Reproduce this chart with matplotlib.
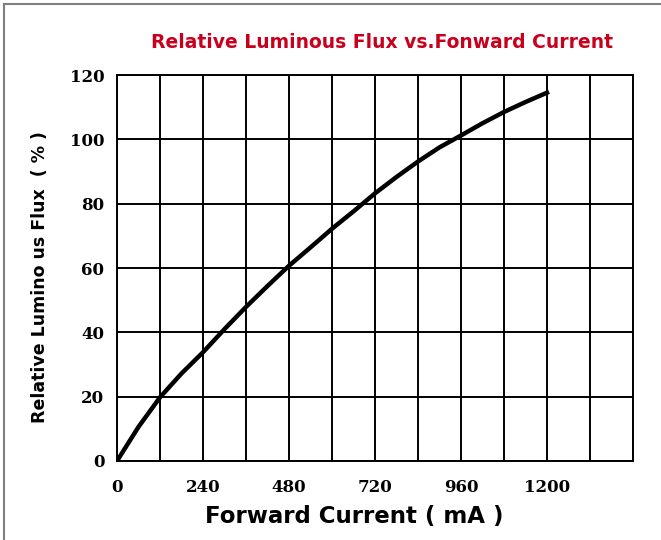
import numpy as np
import matplotlib
matplotlib.use('Agg')
import matplotlib.pyplot as plt
from matplotlib.lines import Line2D

# values, every 60 mA
current = [0, 60, 120, 180, 240, 300, 360, 420, 480, 540, 600,
           660, 720, 780, 840, 900, 960, 1020, 1080, 1140, 1200]
flux = [0, 10.6, 19.8, 27.2, 33.8, 41.0, 47.9, 54.4, 60.7, 66.4, 72.2,
        77.6, 83.2, 88.3, 93.1, 97.5, 101.2, 105.0, 108.5, 111.6, 114.5]
xticks = [0, 240, 480, 720, 960, 1200]
yticks = [0, 20, 40, 60, 80, 100, 120]

fig = plt.figure(figsize=(6.61, 5.40), dpi=100)
ax = fig.add_axes([0.177, 0.1463, 0.7806, 0.7148])

ax.plot(current, flux, color='black', lw=3.2, solid_joinstyle='round', zorder=3)

ax.set_xlim(0, 1440)
ax.set_ylim(0, 120)
grid_x = np.arange(0, 1441, 120)
ax.set_xticks(grid_x)
ax.set_xticklabels([str(v) if v in xticks else '' for v in grid_x])
ax.set_yticks(yticks)
ax.grid(True, color='black', lw=1.4)
ax.tick_params(length=0)
ax.tick_params(axis='x', pad=13)
ax.tick_params(axis='y', pad=9)
for s in ax.spines.values():
    s.set_linewidth(1.4)

for lab in ax.get_xticklabels() + ax.get_yticklabels():
    lab.set_fontfamily('DejaVu Serif')
    lab.set_fontweight('bold')
    lab.set_fontsize(12)

ax.set_xlabel('Forward Current ( mA )', fontsize=16.5, fontweight='bold')
ax.xaxis.set_label_coords(0.46, -0.115)
ax.set_ylabel('Relative Lumino us Flux  ( % )', fontsize=12.5, fontweight='bold')
ax.yaxis.set_label_coords(-0.132, 0.477)

fig.text(0.578, 0.922, 'Relative Luminous Flux vs.Fonward Current', color='#C8001E',
         fontsize=13.5, fontweight='bold', ha='center', va='center')

# outer frame (left and top edges)
fig.add_artist(Line2D([0.006, 0.006], [0.0, 0.993], color='#7f7f7f', lw=1.5, transform=fig.transFigure))
fig.add_artist(Line2D([0.006, 1.0], [0.993, 0.993], color='#7f7f7f', lw=1.5, transform=fig.transFigure))

fig.savefig('out.png', dpi=100)
